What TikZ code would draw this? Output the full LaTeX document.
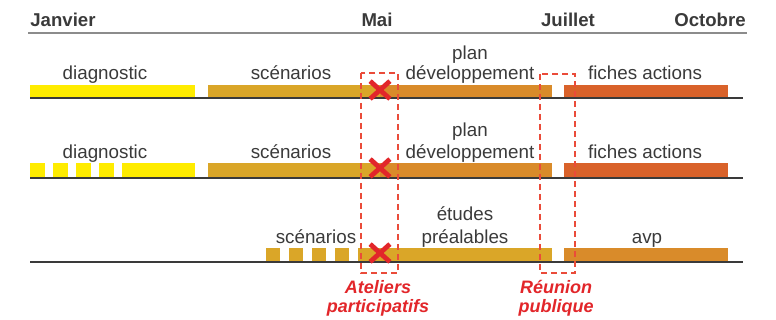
\documentclass[tikz,border=0pt]{standalone}
\usepackage{fontspec}
\setmainfont{Liberation Sans}
\usetikzlibrary{shapes.misc}
\definecolor{jaune}{HTML}{FFEC00}
\definecolor{ocre}{HTML}{DAA628}
\definecolor{orange}{HTML}{D98B2A}
\definecolor{rouille}{HTML}{D9622A}
\definecolor{rouge}{HTML}{E2262A}
\definecolor{tirets}{HTML}{EA4B3A}
\definecolor{gris}{HTML}{3A3A3A}
\definecolor{grisclair}{HTML}{8C8C8C}

\begin{document}
\begin{tikzpicture}[x=0.5pt,y=-0.5pt,
  mois/.style={font=\fontsize{9.3}{11}\selectfont\bfseries,text=gris,anchor=base,inner sep=0pt},
  tache/.style={font=\fontsize{9.4}{11}\selectfont,text=gris,anchor=base,inner sep=0pt},
  rdv/.style={font=\fontsize{9}{11}\selectfont\bfseries\itshape,text=rouge,anchor=base,inner sep=0pt},
  axe/.style={line width=1pt,draw=gris},
  cadre/.style={draw=tirets,line width=0.6pt,dash pattern=on 3pt off 2pt},
  croix/.style={cross out,draw=rouge,line width=2.4pt,inner sep=0pt,minimum width=7.5pt,minimum height=6.5pt}]
  \useasboundingbox (0,0) rectangle (776,320);
  % en-tete
  \node[mois,anchor=base west] (janvier) at (30,27) {Janvier};
  \node[mois] (mai) at (377,27) {Mai};
  \node[mois] (juillet) at (568,27) {Juillet};
  \node[mois,anchor=base east] (octobre) at (746,27) {Octobre};
  \draw[line width=1pt,grisclair] (28,33) -- (747,33);
  % ligne 1
  \fill[jaune] (30,85) rectangle (195,97);
  \fill[ocre] (208,85) rectangle (380,97);
  \fill[orange] (380,85) rectangle (552,97);
  \fill[rouille] (564,85) rectangle (728,97);
  \draw[axe] (30,98) -- (743,98);
  \node[tache] (diag1) at (105,80) {diagnostic};
  \node[tache] (scen1) at (291,80) {scénarios};
  \node[tache] (plan1) at (470,60) {plan};
  \node[tache] (dev1) at (470,80) {développement};
  \node[tache] (fiches1) at (645,80) {fiches actions};
  % ligne 2
  \foreach \x in {30,53,76,99}
    \fill[jaune] (\x,163) rectangle ++(15,14);
  \fill[jaune] (122,163) rectangle (195,177);
  \fill[ocre] (208,163) rectangle (380,177);
  \fill[orange] (380,163) rectangle (552,177);
  \fill[rouille] (564,163) rectangle (728,177);
  \draw[axe] (30,178) -- (743,178);
  \node[tache] (diag2) at (105,159) {diagnostic};
  \node[tache] (scen2) at (291,159) {scénarios};
  \node[tache] (plan2) at (470,137) {plan};
  \node[tache] (dev2) at (470,159) {développement};
  \node[tache] (fiches2) at (645,159) {fiches actions};
  % ligne 3
  \foreach \x in {266,289,312,335}
    \fill[ocre] (\x,248) rectangle ++(14,13);
  \fill[ocre] (358,248) rectangle (552,261);
  \fill[orange] (564,248) rectangle (728,261);
  \draw[axe] (30,262) -- (743,262);
  \node[tache] (scen3) at (316,243) {scénarios};
  \node[tache] (etudes) at (465,221) {études};
  \node[tache] (prea) at (465,243) {préalables};
  \node[tache] (avp) at (647,243) {avp};
  % rendez-vous
  \draw[cadre] (361,73) rectangle (398,273);
  \draw[cadre] (540,74) rectangle (575,273);
  \node[croix] (x1) at (380,90) {};
  \node[croix] (x2) at (380,168) {};
  \node[croix] (x3) at (380,253) {};
  \node[rdv] (ateliers) at (378,293) {Ateliers};
  \node[rdv] (partic) at (378,313) {participatifs};
  \node[rdv] (reunion) at (556,293) {Réunion};
  \node[rdv] (publique) at (556,313) {publique};
\end{tikzpicture}
\end{document}
